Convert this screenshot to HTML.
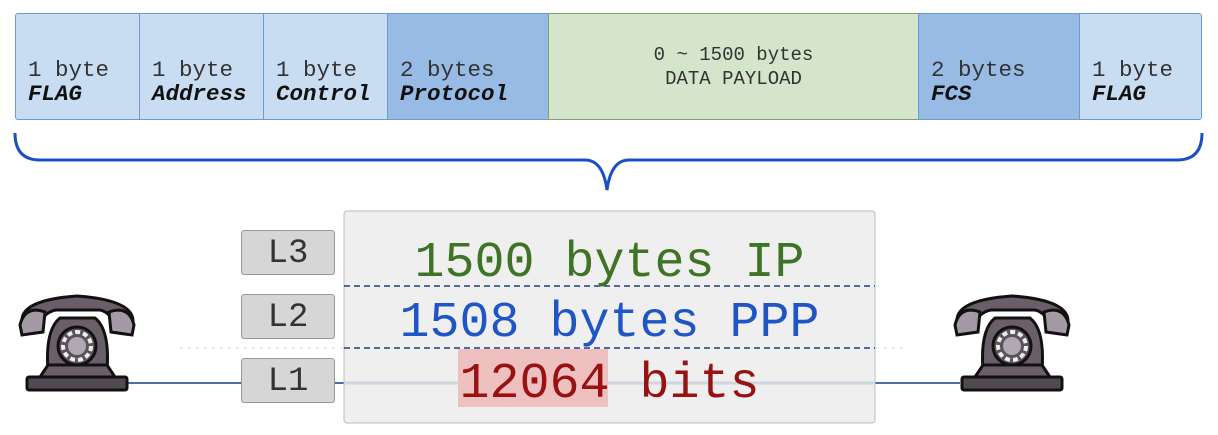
<!DOCTYPE html>
<html><head><style>
body{margin:0;width:1218px;height:435px;background:#fff;position:relative;overflow:hidden;font-family:"Liberation Mono",monospace}
.c{position:absolute;top:13px;height:107px;border:1px solid #6c9bd0;box-sizing:border-box;font-size:22.5px;color:#333;line-height:24px}
.c span{position:absolute;left:12px;top:44px;white-space:nowrap}
.c b{font-style:italic;color:#111}
.L{position:absolute;left:241px;width:94px;height:45px;background:#d6d6d6;border:1px solid #999;border-radius:3px;box-sizing:border-box;font-size:34px;text-align:center;line-height:47px;color:#333}
.big{position:absolute;left:344px;width:531px;text-align:center;font-size:50px;line-height:56px}
</style></head><body>
<div class="c" style="left:15px;width:125px;background:#c8ddf1;border-radius:3px 0 0 3px"><span>1 byte<br><b>FLAG</b></span></div>
<div class="c" style="left:139px;width:125px;background:#c8ddf1"><span>1 byte<br><b>Address</b></span></div>
<div class="c" style="left:263px;width:125px;background:#c8ddf1"><span>1 byte<br><b>Control</b></span></div>
<div class="c" style="left:387px;width:162px;background:#97bbe5"><span>2 bytes<br><b>Protocol</b></span></div>
<div class="c" style="left:548px;width:371px;background:#d4e5cc;border-color:#7aa56a;text-align:center"><span style="left:0;right:0;top:29px;font-size:19px">0 ~ 1500 bytes<br>DATA PAYLOAD</span></div>
<div class="c" style="left:918px;width:162px;background:#97bbe5"><span>2 bytes<br><b>FCS</b></span></div>
<div class="c" style="left:1079px;width:123px;background:#c8ddf1;border-radius:0 3px 3px 0"><span>1 byte<br><b>FLAG</b></span></div>
<svg width="1218" height="435" style="position:absolute;left:0;top:0">
<path d="M15 133 Q15 160 40 160 L585 160 Q603 160 607 190 Q611 160 629 160 L1177 160 Q1202 160 1202 133" fill="none" stroke="#1d4fc4" stroke-width="3"/>
<line x1="180" y1="348" x2="905" y2="348" stroke="#ddd" stroke-dasharray="3 5"/>
<line x1="125" y1="383" x2="960" y2="383" stroke="#4a6ea0" stroke-width="2"/>
<rect x="344" y="211" width="531" height="212" rx="3" fill="#efefef" stroke="#bbb"/>
<line x1="344" y1="383" x2="875" y2="383" stroke="#d0d6de" stroke-width="3"/>
<line x1="344" y1="286" x2="875" y2="286" stroke="#1f3f7a" stroke-width="1.5" stroke-dasharray="6 4"/>
<line x1="344" y1="348" x2="875" y2="348" stroke="#1f3f7a" stroke-width="1.5" stroke-dasharray="6 4"/>
<rect x="458" y="349" width="150" height="58" fill="#efc0c0"/>
<g id="ph">
<path d="M48 370 Q45 330 60 318 L95 318 Q110 330 107 370 Z" fill="#6a5f68" stroke="#111" stroke-width="3"/>
<rect x="27" y="377" width="100" height="13" rx="2" fill="#524a52" stroke="#111" stroke-width="3"/>
<path d="M40 377 L48 365 L107 365 L115 377Z" fill="#6a5f68" stroke="#111" stroke-width="3"/>
<path d="M22 322 Q20 300 77 296 Q134 300 133 322 L118 328 Q110 312 100 310 L56 310 Q44 312 36 328 Z" fill="#6a5f68" stroke="#111" stroke-width="3"/>
<path d="M20 325 Q25 305 45 312 L43 332 L22 335Z" fill="#a49aa6" stroke="#111" stroke-width="3"/>
<path d="M134 325 Q129 305 109 312 L111 332 L132 335Z" fill="#a49aa6" stroke="#111" stroke-width="3"/>
<circle cx="77" cy="346" r="19" fill="#5b525a" stroke="#111" stroke-width="3"/>
<circle cx="77" cy="346" r="14" fill="none" stroke="#eee" stroke-width="4" stroke-dasharray="5 3"/>
<circle cx="77" cy="346" r="9" fill="#b0a8b2"/>
</g>
<use href="#ph" x="935"/>
</svg>
<div class="L" style="top:230px">L3</div>
<div class="L" style="top:294px">L2</div>
<div class="L" style="top:358px">L1</div>
<div class="big" style="top:236px;color:#3f7426">1500 bytes IP</div>
<div class="big" style="top:296px;color:#1f55c4">1508 bytes PPP</div>
<div class="big" style="top:357px;color:#9a1111">12064 bits</div>
</body></html>
